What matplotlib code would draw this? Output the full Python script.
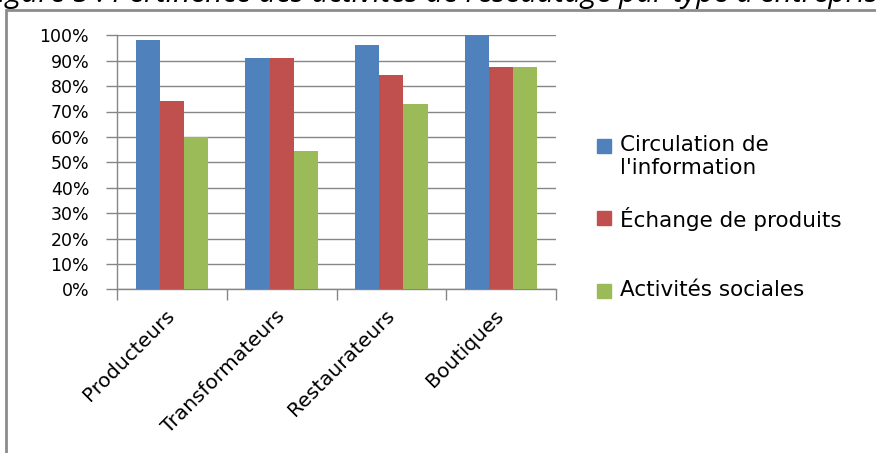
import numpy as np
import matplotlib
matplotlib.use("Agg")
import matplotlib.pyplot as plt
from matplotlib.patches import Rectangle

# Data
categories = ["Producteurs", "Transformateurs", "Restaurateurs", "Boutiques"]
series = ["Circulation de\nl'information", "Échange de produits", "Activités sociales"]
circulation = [98, 91, 96, 100]
echange = [74, 91, 84.5, 87.5]
sociales = [60, 54.5, 73, 87.5]
colors = ["#4F81BD", "#C0504D", "#9BBB59"]
title = "Figure 5 : Pertinence des activités de réseautage par type d'entreprise"

W, H = 876, 453
fig = plt.figure(figsize=(W / 100, H / 100), dpi=100)
ax = fig.add_axes([117 / W, 1 - 289.3 / H, (556 - 117) / W, (289.3 - 35.3) / H])

x = np.arange(len(categories))
width = 0.22
for i, vals in enumerate([circulation, echange, sociales]):
    ax.bar(x + (i - 1) * width, np.array(vals) / 100, width,
           color=colors[i], edgecolor="none", zorder=3)

ax.set_xlim(-0.5, len(categories) - 0.5)
ax.set_ylim(0, 1)
ax.set_yticks(np.linspace(0, 1, 11))
ax.set_yticklabels([f"{int(v)}%" for v in np.linspace(0, 100, 11)],
                   fontsize=12.5, family="DejaVu Sans")
ax.yaxis.grid(True, color="#868686", lw=1, zorder=0)

# category boundaries as major ticks, names on minor ticks
ax.set_xticks(np.arange(-0.5, len(categories), 1))
ax.set_xticklabels([])
ax.set_xticks(x, minor=True)
ax.set_xticklabels(categories, minor=True, rotation=45, ha="right",
                   va="center", rotation_mode="anchor", fontsize=14.5,
                   family="DejaVu Sans")
ax.tick_params(axis="x", which="minor", length=0, pad=17)
ax.tick_params(axis="both", which="major", length=8, color="#868686",
               direction="out", width=1)
ax.tick_params(axis="y", pad=12)

for s in ["top", "right"]:
    ax.spines[s].set_visible(False)
for s in ["left", "bottom"]:
    ax.spines[s].set_color("#868686")
    ax.spines[s].set_linewidth(1)

# legend
leg_y = [146, 218, 291]
for i, name in enumerate(series):
    fig.patches.append(Rectangle((597 / W, 1 - (leg_y[i] + 7) / H), 14 / W, 14 / H,
                                 transform=fig.transFigure, color=colors[i]))
    fig.text(620 / W, 1 - (leg_y[i] - 11) / H, name, fontsize=15.5,
             family="DejaVu Sans", va="top", ha="left", linespacing=1.2)

# outer frame and clipped caption
fig.patches.append(Rectangle((5.5 / W, -0.2), 1.5, 1.2 - 10 / H,
                             transform=fig.transFigure, fill=False,
                             edgecolor="#8C8C8C", lw=2))
fig.text(-16 / W, 1 - 2 / H, title, fontsize=21.5, style="italic",
         family="Open Sans", va="baseline", ha="left")

fig.savefig("out.png", dpi=100)
